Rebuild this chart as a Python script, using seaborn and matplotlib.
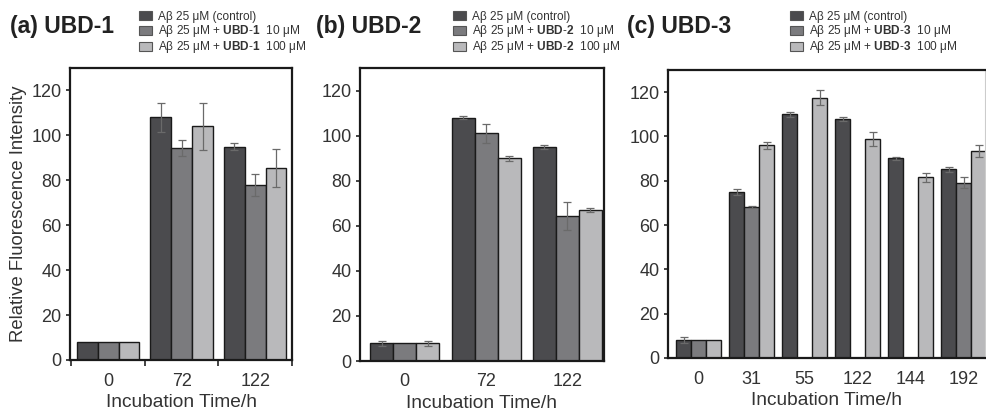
import numpy as np
import pandas as pd
import matplotlib
matplotlib.use("Agg")
import matplotlib.pyplot as plt
import seaborn as sns
from matplotlib.patches import Patch

# ---------------- data ----------------
treatments = ["control", "10 uM", "100 uM"]
colors = ["#4b4b4e", "#7b7b7e", "#b9b9bb"]

times_a = ["0", "72", "122"]
ctrl_a = [8.0, 108.0, 95.0]
ctrl_a_err = [0.0, 6.3, 1.5]
low_a = [8.0, 94.5, 77.8]
low_a_err = [0.0, 3.6, 4.9]
high_a = [8.0, 104.0, 85.6]
high_a_err = [0.0, 10.3, 8.5]

times_b = ["0", "72", "122"]
ctrl_b = [7.8, 108.0, 95.0]
ctrl_b_err = [1.0, 0.8, 0.8]
low_b = [7.8, 101.0, 64.5]
low_b_err = [0.0, 4.2, 6.2]
high_b = [7.8, 89.9, 67.2]
high_b_err = [1.2, 1.2, 0.9]

times_c = ["0", "31", "55", "122", "144", "192"]
ctrl_c = [8.0, 75.0, 110.0, 108.0, 90.2, 85.1]
ctrl_c_err = [1.3, 1.2, 1.2, 1.0, 0.6, 1.2]
low_c = [8.0, 68.0, np.nan, np.nan, np.nan, 79.2]
low_c_err = [0.0, 0.5, np.nan, np.nan, np.nan, 2.4]
high_c = [8.0, 96.1, 117.5, 98.9, 81.5, 93.4]
high_c_err = [0.0, 1.6, 3.3, 3.3, 2.0, 2.7]

panels = [
    ("(a) UBD-1", "UBD-1", times_a, [ctrl_a, low_a, high_a], [ctrl_a_err, low_a_err, high_a_err]),
    ("(b) UBD-2", "UBD-2", times_b, [ctrl_b, low_b, high_b], [ctrl_b_err, low_b_err, high_b_err]),
    ("(c) UBD-3", "UBD-3", times_c, [ctrl_c, low_c, high_c], [ctrl_c_err, low_c_err, high_c_err]),
]

# ---------------- style ----------------
sns.set_theme(style="white")
plt.rcParams["font.family"] = ["Liberation Sans", "DejaVu Sans"]
plt.rcParams["mathtext.fontset"] = "custom"
plt.rcParams["mathtext.rm"] = "Liberation Sans"
plt.rcParams["mathtext.bf"] = "Liberation Sans:bold"

W, H = 986, 412
fig = plt.figure(figsize=(W / 100, H / 100), dpi=100)

# pixel boxes: left, right, top, bottom
boxes = [(70, 292, 68, 360), (360, 604, 68, 361), (668, 985, 70, 358)]
xlims = [(-0.52, 2.5), (-0.55, 2.45), (-0.58, 5.4)]
title_x = [10, 316, 627]
legend_x = [139, 453, 790]

text_col = "#333333"

for i, (title, name, times, vals, errs) in enumerate(panels):
    l, r, t, b = boxes[i]
    ax = fig.add_axes([l / W, 1 - b / H, (r - l) / W, (b - t) / H])

    rows = []
    for tr, series in zip(treatments, vals):
        for tm, v in zip(times, series):
            rows.append({"time": tm, "treat": tr, "value": v})
    df = pd.DataFrame(rows)

    sns.barplot(data=df, x="time", y="value", hue="treat", order=times,
                hue_order=treatments, palette=colors, errorbar=None,
                width=0.85, edgecolor="#1a1a1a", linewidth=1.0,
                saturation=1, legend=False, ax=ax)

    # error bars, matched to bars in each hue container
    for cont, series, err in zip(ax.containers, vals, errs):
        present = [(v, e) for v, e in zip(series, err) if not np.isnan(v)]
        for bar, (v, e) in zip(cont, present):
            if e > 0:
                xc = bar.get_x() + bar.get_width() / 2
                ax.errorbar(xc, bar.get_height(), yerr=e, color="#6a6a6a",
                            lw=0.9, capsize=3, capthick=0.9, zorder=3)

    ax.set_ylim(0, 130)
    ax.set_xlim(*xlims[i])
    ax.set_yticks(range(0, 121, 20))
    ax.set_xlabel("Incubation Time/h", fontsize=13.8, color=text_col, labelpad=3)
    if i == 0:
        ax.set_ylabel("Relative Fluorescence Intensity", fontsize=13.3,
                      color=text_col, labelpad=3)
    else:
        ax.set_ylabel("")
    ax.tick_params(axis="y", direction="out", length=3, width=1.2,
                   labelsize=13, colors="#222222", labelcolor=text_col, pad=3, left=True)
    ax.tick_params(axis="x", length=0, labelsize=13, labelcolor=text_col, pad=9)
    if i == 0:
        ax.set_xticks([-0.5, 0.5, 1.5, 2.5], minor=True)
        ax.tick_params(axis="x", which="minor", direction="out", length=4,
                       width=1.2, bottom=True, color="#222222")
    for sp in ax.spines.values():
        sp.set_visible(True)
        sp.set_color("#1a1a1a")
        sp.set_linewidth(1.6)
    if i == 2:
        ax.spines["right"].set_color("#cccccc")
        ax.spines["right"].set_linewidth(0.8)

    # title
    fig.text(title_x[i] / W, 1 - 26 / H, title, fontsize=16.5, fontweight="bold",
             color="#222222", ha="left", va="center")

    # legend
    labels = [
        "A\u03b2 25 \u03bcM (control)",
        "A\u03b2 25 \u03bcM + $\\mathbf{" + name.replace("-", "}$-$\\mathbf{") + "}$  10 \u03bcM",
        "A\u03b2 25 \u03bcM + $\\mathbf{" + name.replace("-", "}$-$\\mathbf{") + "}$  100 \u03bcM",
    ]
    handles = [Patch(facecolor=c, edgecolor="#555555", linewidth=0.8) for c in colors]
    fig.legend(handles, labels, loc="upper left",
               bbox_to_anchor=(legend_x[i] / W, 1 - 11 / H),
               frameon=False, fontsize=8.6, handlelength=1.1, handleheight=0.8,
               handletextpad=0.5, labelspacing=0.02, borderpad=0,
               borderaxespad=0, labelcolor=text_col)

fig.savefig("out.png", dpi=100)
